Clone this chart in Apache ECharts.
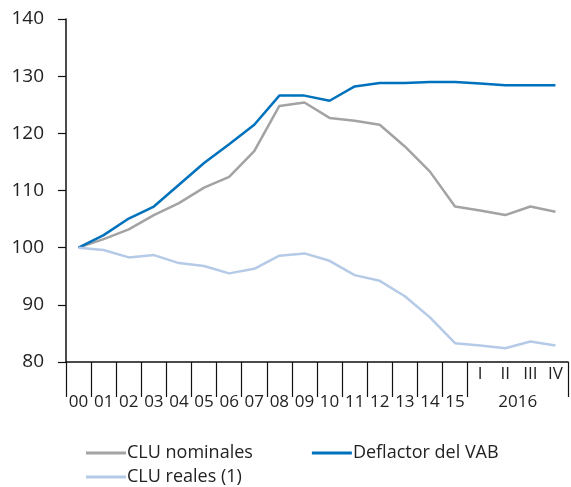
<!DOCTYPE html>
<html>
<head>
<meta charset="utf-8">
<script src="https://cdn.jsdelivr.net/npm/echarts@6/dist/echarts.min.js"></script>
<style>
html, body { margin: 0; padding: 0; background: #fff; }
#main { width: 571px; height: 487px; }
</style>
</head>
<body>
<div id="main"></div>
<script>
// categorias: años 2000-2015 y trimestres de 2016
var categorias = ['00','01','02','03','04','05','06','07','08','09','10','11','12','13','14','15','I','II','III','IV'];
var trimestres = ['I','II','III','IV'];

var cluNominales = [100, 101.5, 103.2, 105.7, 107.8, 110.5, 112.4, 116.9, 124.8, 125.4, 122.7, 122.2, 121.5, 117.7, 113.3, 107.2, 106.5, 105.7, 107.2, 106.3];
var deflactorVAB = [100, 102.2, 105.1, 107.2, 111.0, 114.8, 118.1, 121.5, 126.6, 126.6, 125.7, 128.2, 128.8, 128.8, 129.0, 129.0, 128.7, 128.4, 128.4, 128.4];
var cluReales = [100, 99.6, 98.3, 98.7, 97.3, 96.8, 95.5, 96.3, 98.6, 99.0, 97.7, 95.2, 94.2, 91.5, 87.8, 83.3, 82.9, 82.4, 83.6, 82.9];

// etiqueta del año sobre los trimestres (eje auxiliar con limites de categoria)
var limites = [];
for (var i = 0; i <= categorias.length; i++) limites.push(i === 18 ? '2016' : '');

var fuente = '"Open Sans", sans-serif';
var gris = '#a3a3a3', azul = '#0071bc', celeste = '#b5cae6';

var chart = echarts.init(document.getElementById('main'));
chart.setOption({
    animation: false,
    textStyle: { fontFamily: fuente },
    grid: { left: 66, top: 19, right: 1, bottom: 125 },
    legend: [
        {
            data: ['CLU nominales', 'Deflactor del VAB'],
            left: 81, top: 439,
            icon: 'rect', itemWidth: 40, itemHeight: 3, itemGap: 59,
            textStyle: { fontSize: 18, color: '#222', padding: [0, 0, 0, -4] }
        },
        {
            data: ['CLU reales (1)'],
            left: 81, top: 463,
            icon: 'rect', itemWidth: 40, itemHeight: 3,
            textStyle: { fontSize: 18, color: '#222', padding: [0, 0, 0, -4] }
        }
    ],
    xAxis: [
        {
            type: 'category',
            data: categorias,
            boundaryGap: true,
            axisLine: { lineStyle: { color: '#111', width: 1.5 } },
            axisTick: { length: 26, lineStyle: { color: '#111', width: 1.2 } },
            axisLabel: {
                interval: 0, margin: 4, color: '#222', fontSize: 17,
                formatter: function (v) {
                    return trimestres.indexOf(v) >= 0 ? '{q|' + v + '}' : '{y|' + v + '}';
                },
                rich: {
                    q: { fontSize: 17, color: '#222', fontFamily: fuente },
                    y: { fontSize: 17, color: '#222', fontFamily: fuente, padding: [28, 0, 0, 0] }
                }
            }
        },
        {
            type: 'category',
            position: 'bottom',
            data: limites,
            boundaryGap: false,
            axisLine: { show: false },
            axisTick: {
                length: 35,
                interval: function (i) { return i <= 16 || i === 20; },
                lineStyle: { color: '#111', width: 1.2 }
            },
            axisLabel: { interval: 0, margin: 32, color: '#222', fontSize: 17 }
        }
    ],
    yAxis: {
        type: 'value',
        min: 80, max: 140, interval: 10,
        splitLine: { show: false },
        axisLine: { show: true, lineStyle: { color: '#111', width: 1.5 } },
        axisTick: { show: true, length: 8, lineStyle: { color: '#111', width: 1.2 } },
        axisLabel: { margin: 22, color: '#222', fontSize: 19 }
    },
    series: [
        {
            name: 'CLU nominales', type: 'line', data: cluNominales,
            symbol: 'none', color: gris, lineStyle: { width: 2.5, color: gris }
        },
        {
            name: 'Deflactor del VAB', type: 'line', data: deflactorVAB,
            symbol: 'none', color: azul, lineStyle: { width: 2.5, color: azul }
        },
        {
            name: 'CLU reales (1)', type: 'line', data: cluReales,
            symbol: 'none', color: celeste, lineStyle: { width: 2.5, color: celeste }
        }
    ]
});
</script>
</body>
</html>
